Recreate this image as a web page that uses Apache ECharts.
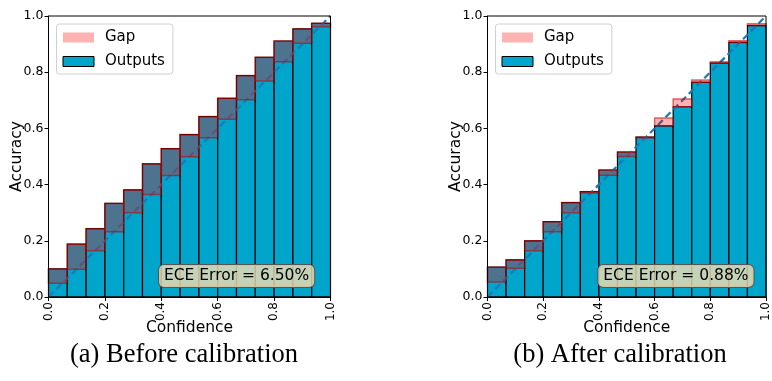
<!DOCTYPE html>
<html>
<head>
<meta charset="utf-8">
<script src="https://cdn.jsdelivr.net/npm/echarts@6/dist/echarts.min.js"></script>
<style>
  html, body { margin: 0; padding: 0; background: #fff; }
  #chart { width: 772px; height: 381px; }
</style>
</head>
<body>
<div id="chart"></div>
<script>
const nBins = 15
const binEdges = Array.from({ length: nBins + 1 }, (_, i) => i / nBins)

// (a) before calibration
const accBefore = [0.100, 0.188, 0.243, 0.333, 0.381, 0.474, 0.528, 0.578, 0.642, 0.707, 0.788, 0.853, 0.911, 0.954, 0.974]
const confBefore = [0.049, 0.099, 0.165, 0.232, 0.300, 0.365, 0.432, 0.499, 0.567, 0.633, 0.702, 0.769, 0.837, 0.903, 0.962]
// (b) after calibration
const accAfter = [0.106, 0.132, 0.200, 0.268, 0.336, 0.375, 0.452, 0.516, 0.569, 0.609, 0.677, 0.764, 0.832, 0.906, 0.966]
const confAfter = [0.053, 0.102, 0.165, 0.232, 0.300, 0.370, 0.433, 0.500, 0.566, 0.637, 0.705, 0.772, 0.837, 0.912, 0.972]

const eceLabels = ['ECE Error = 6.50%', 'ECE Error = 0.88%']
const captions = ['(a) Before calibration', '(b) After calibration']
const axisTicks = [0, 0.2, 0.4, 0.6, 0.8, 1.0]

const OUT_COLOR = '#00a5cc'
const GAP_FILL = 'rgba(255,0,0,0.3)'
const GAP_EDGE = 'rgba(190,0,0,0.55)'

const grids = [
  { left: 48.5, top: 16, width: 282, height: 281 },
  { left: 487.5, top: 16, width: 282.5, height: 281 },
]

function rectItem(fill, stroke, lw) {
  return function (params, api) {
    const p0 = api.coord([api.value(0), api.value(2)])
    const p1 = api.coord([api.value(1), api.value(3)])
    return {
      type: 'rect',
      shape: { x: p0[0], y: p1[1], width: p1[0] - p0[0], height: p0[1] - p1[1] },
      style: { fill: fill, stroke: stroke, lineWidth: lw },
    }
  }
}

function buildSeries(acc, conf, idx) {
  const outData = acc.map((a, i) => [binEdges[i], binEdges[i + 1], 0, a])
  const gapData = acc.map((a, i) => [binEdges[i], binEdges[i + 1], Math.min(a, conf[i]), Math.max(a, conf[i])])
  return [
    {
      name: 'Outputs', type: 'custom', xAxisIndex: idx, yAxisIndex: idx, z: 2,
      renderItem: rectItem(OUT_COLOR, '#000', 1.2),
      encode: { x: [0, 1], y: [2, 3] },
      itemStyle: { color: OUT_COLOR },
      data: outData,
    },
    {
      name: 'diag', type: 'line', xAxisIndex: idx, yAxisIndex: idx, z: 3,
      symbol: 'none', silent: true,
      lineStyle: { color: '#1f77b4', width: 2.2, type: [7, 4] },
      data: [[0, 0], [1, 1]],
    },
    {
      name: 'Gap', type: 'custom', xAxisIndex: idx, yAxisIndex: idx, z: 4,
      renderItem: rectItem(GAP_FILL, GAP_EDGE, 1.5),
      encode: { x: [0, 1], y: [2, 3] },
      itemStyle: { color: '#ffb3b3' },
      data: gapData,
    },
  ]
}

function axisCommon(idx) {
  return {
    type: 'value', gridIndex: idx, min: 0, max: 1, interval: 0.2,
    nameMoveOverlap: false,
    axisLine: { show: true, lineStyle: { color: '#000', width: 1 } },
    axisTick: { show: true, inside: false, length: 4, lineStyle: { color: '#000' } },
    splitLine: { show: false },
    nameTextStyle: { fontFamily: 'DejaVu Sans', fontSize: 15.5, color: '#000' },
  }
}

const chart = echarts.init(document.getElementById('chart'), null, { renderer: 'canvas' })

const option = {
  animation: false,
  backgroundColor: '#fff',
  grid: grids.map(g => Object.assign({ show: true, borderColor: '#000', borderWidth: 1, backgroundColor: 'transparent', z: 10 }, g)),
  xAxis: [0, 1].map(i => Object.assign(axisCommon(i), {
    name: 'Confidence', nameLocation: 'middle', nameGap: 23,
    axisLabel: {
      rotate: 90, margin: 5, fontFamily: 'DejaVu Sans', fontSize: 12, color: '#000',
      formatter: v => axisTicks.includes(v) ? v.toFixed(1) : '',
    },
  })),
  yAxis: [0, 1].map(i => Object.assign(axisCommon(i), {
    name: 'Accuracy', nameLocation: 'middle', nameGap: 24,
    axisLabel: {
      margin: 5, fontFamily: 'DejaVu Sans', fontSize: 12.5, color: '#000',
      formatter: v => v.toFixed(1),
    },
  })),
  legend: grids.map(g => ({
    orient: 'vertical', left: g.left + 8, top: 24,
    itemWidth: 31, itemHeight: 10, itemGap: 9,
    padding: [6, 8, 5, 6],
    backgroundColor: 'rgba(255,255,255,0.8)', borderColor: '#d0d0d0', borderWidth: 1, borderRadius: 3,
    textStyle: { fontFamily: 'DejaVu Sans', fontSize: 15, color: '#000', padding: [0, 0, 0, 6] },
    selectedMode: false,
    data: [
      { name: 'Gap', icon: 'rect', itemStyle: { color: '#ffb3b3', borderWidth: 0 } },
      { name: 'Outputs', icon: 'rect', itemStyle: { color: OUT_COLOR, borderColor: '#000', borderWidth: 1 } },
    ],
  })),
  graphic: [
    ...grids.map((g, i) => ({
      type: 'text', x: g.left + g.width * 0.667, y: 276, z: 20,
      style: {
        text: eceLabels[i], fontFamily: 'DejaVu Sans', fontSize: 15.5, fill: '#000',
        align: 'center', verticalAlign: 'middle',
        backgroundColor: 'rgba(245,222,179,0.8)', borderColor: '#555', borderWidth: 1, borderRadius: 5,
        padding: [3, 5, 3, 5],
      },
    })),
    ...grids.map((g, i) => ({
      type: 'text', x: [184, 620][i], y: 355,
      style: {
        text: captions[i], fontFamily: 'Liberation Serif', fontSize: 26.5, fill: '#000',
        align: 'center', verticalAlign: 'middle',
      },
    })),
  ],
  series: [...buildSeries(accBefore, confBefore, 0), ...buildSeries(accAfter, confAfter, 1)],
}

chart.setOption(option)
</script>
</body>
</html>
